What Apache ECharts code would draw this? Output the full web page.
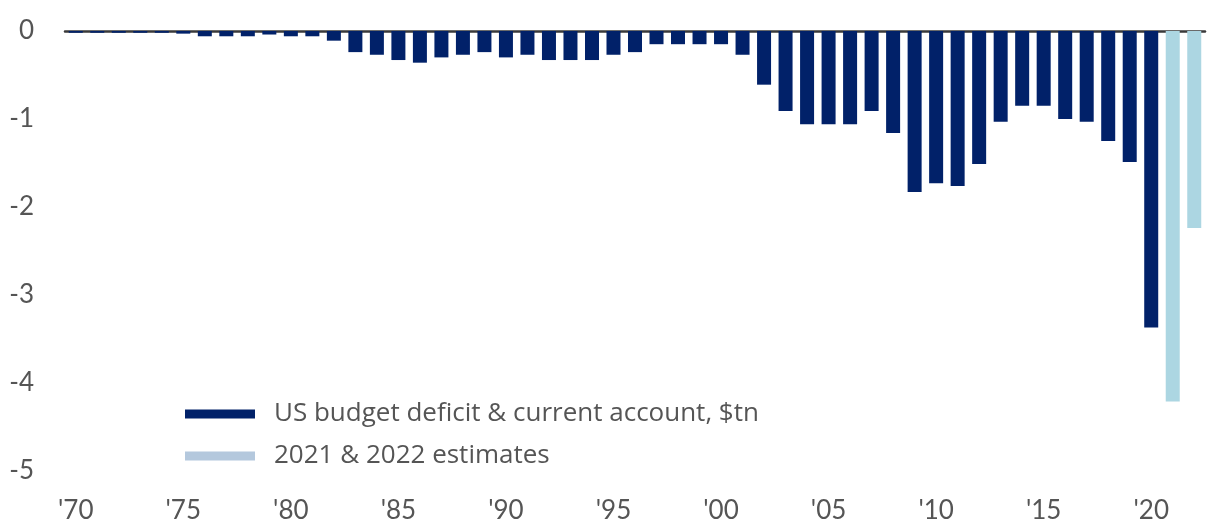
<!DOCTYPE html>
<html>
<head>
<meta charset="utf-8">
<script src="https://cdn.jsdelivr.net/npm/echarts@6/dist/echarts.min.js"></script>
<style>
  html, body { margin: 0; padding: 0; background: #ffffff; }
  #chart { width: 1209px; height: 531px; }
</style>
</head>
<body>
<div id="chart"></div>
<script>
// Years shown on the category axis
const years = [];
for (let y = 1970; y <= 2022; y++) years.push(String(y));

// US budget deficit plus current account, $tn (1970-2020)
const actualValues = [
  -0.02, -0.02, -0.02, -0.02, -0.02, -0.03, -0.06, -0.06, -0.06, -0.04,
  -0.06, -0.06, -0.11, -0.24, -0.27, -0.33, -0.36, -0.30, -0.27, -0.24,
  -0.30, -0.27, -0.33, -0.33, -0.33, -0.27, -0.24, -0.15, -0.15, -0.15,
  -0.15, -0.27, -0.61, -0.91, -1.06, -1.06, -1.06, -0.91, -1.16, -1.83,
  -1.73, -1.76, -1.51, -1.03, -0.85, -0.85, -1.00, -1.03, -1.25, -1.49,
  -3.37
];

// Estimates for 2021 and 2022, $tn
const estimateYears = ['2021', '2022'];
const estimateValues = [-4.21, -2.24];

const seriesActualName = 'US budget deficit & current account, $tn';
const seriesEstimateName = '2021 & 2022 estimates';

const yTicks = [0, -1, -2, -3, -4, -5];

const actualData = years.map((y, i) => (i < actualValues.length ? actualValues[i] : null));
const estimateData = years.map(y => {
  const k = estimateYears.indexOf(y);
  return k >= 0 ? estimateValues[k] : null;
});

const FONT = 'Lato, "Open Sans", sans-serif';
const LEGEND_FONT = '"Open Sans", Lato, sans-serif';
const TEXT = '#555555';

const chart = echarts.init(document.getElementById('chart'), null, { renderer: 'canvas' });
chart.setOption({
  animation: false,
  backgroundColor: '#ffffff',
  grid: { left: 65, right: 4, top: 31, bottom: 60, containLabel: false },
  legend: {
    orient: 'vertical',
    left: 180,
    top: 394,
    itemWidth: 70,
    itemHeight: 9,
    itemGap: 12,
    icon: 'rect',
    textStyle: { fontFamily: LEGEND_FONT, fontSize: 26, color: TEXT, lineHeight: 30, padding: [0, 0, 0, 14] },
    data: [
      { name: seriesActualName, itemStyle: { color: '#012169' } },
      { name: seriesEstimateName, itemStyle: { color: '#b4c8dd' } }
    ]
  },
  xAxis: [
    {
      type: 'category',
      data: years,
      position: 'bottom',
      axisLine: { show: false },
      axisTick: { show: false },
      axisLabel: {
        interval: 4,
        margin: 27,
        fontFamily: FONT,
        fontSize: 26,
        color: TEXT,
        formatter: v => "'" + v.slice(2)
      }
    },
    {
      type: 'category',
      data: years,
      position: 'top',
      axisLine: { show: true, onZero: false, lineStyle: { color: '#3a3a3a', width: 2.5 } },
      axisTick: { show: false },
      axisLabel: { show: false }
    }
  ],
  yAxis: {
    type: 'value',
    min: yTicks[yTicks.length - 1],
    max: yTicks[0],
    interval: 1,
    axisLine: { show: false },
    axisTick: { show: false },
    splitLine: { show: false },
    axisLabel: { margin: 31, fontFamily: FONT, fontSize: 26, color: TEXT }
  },
  series: [
    {
      name: seriesActualName,
      type: 'bar',
      stack: 'total',
      barWidth: 14,
      data: actualData,
      itemStyle: { color: '#012169' }
    },
    {
      name: seriesEstimateName,
      type: 'bar',
      stack: 'total',
      barWidth: 14,
      data: estimateData,
      itemStyle: { color: '#acd6e2' }
    }
  ]
});
</script>
</body>
</html>
